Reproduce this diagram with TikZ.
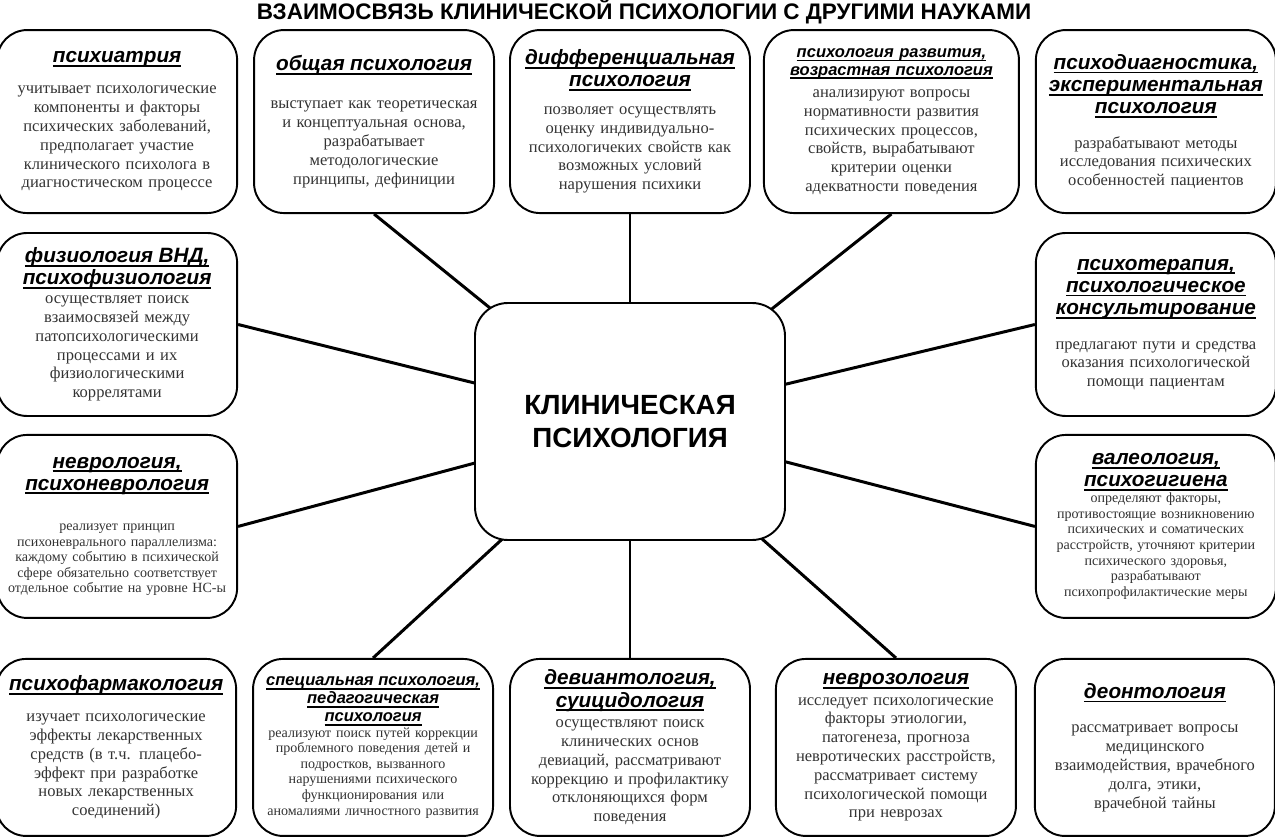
\documentclass[tikz,border=0pt]{standalone}
\usepackage{fontspec}
\setmainfont{Liberation Serif}
\setsansfont{Liberation Sans}
\usepackage{tikz}
\usetikzlibrary{positioning, backgrounds}
\newsavebox{\cajaz}
\newcommand{\subr}[1]{\leavevmode\sbox{\cajaz}{#1}\rlap{\rule[-2.4pt]{\wd\cajaz}{1.1pt}}\usebox{\cajaz}}
\newcommand{\zagol}[2][0pt]{{\fontsize{11.8}{12.6}\selectfont\sffamily\bfseries\itshape\color{black}#2\par}\vspace{#1}}
\newcommand{\zagolch}[2][0pt]{{\fontsize{9.4}{10.2}\selectfont\sffamily\bfseries\itshape\color{black}#2\par}\vspace{#1}}

\begin{document}
\begin{tikzpicture}[
            node distance=0.3cm,
            % Estilos base
            base/.style={
                rectangle, draw, fill=white, align=center, line width=1.1pt
            },
            box_centro/.style={
                base, rounded corners=0.66cm, minimum width=6.2cm, minimum height=4.74cm,
                font=\sffamily\bfseries\fontsize{15.8}{19}\selectfont
            },
            % Cajas de las ciencias (4.8cm x 3.66cm)
            box_rama/.style={
                base, rounded corners=0.6cm, text width=4.5cm, inner xsep=0.15cm, inner ysep=3pt,
                minimum height=3.66cm, font=\fontsize{9.4}{10.7}\selectfont, text=black!80
            },
            box_rama_ch/.style={
                box_rama, font=\fontsize{8}{8.9}\selectfont
            },
            % Fila inferior algo mas baja
            box_baja/.style={minimum height=3.54cm},
            linea/.style={line width=1.7pt}
        ]

            \useasboundingbox (-12.6,8.43) rectangle (12.9,-8.29);

            % 1. Nodo central
            \node[box_centro] (klinika) {КЛИНИЧЕСКАЯ\\ПСИХОЛОГИЯ};

            % Titulo
            \node[anchor=base, inner sep=0pt, font=\sffamily\bfseries\fontsize{12.8}{14}\selectfont] (titulo) at (0.28,8.03)
                {ВЗАИМОСВЯЗЬ КЛИНИЧЕСКОЙ ПСИХОЛОГИИ С ДРУГИМИ НАУКАМИ};

            % 2. Fila superior
            \node[box_rama, above=1.76cm of klinika] (diff) {
                \zagol[5pt]{\subr{дифференциальная}\\\subr{психология}}
                позволяет осуществлять\\оценку индивидуально-\\психологичеких свойств как\\возможных условий\\нарушения психики
            };
            \node[box_rama, left=0.28cm of diff] (obshch) {
                \zagol[11pt]{\subr{общая психология}}
                выступает как теоретическая\\и концептуальная основа,\\разрабатывает\\методологические\\принципы, дефиниции
            };
            \node[box_rama, left=of obshch] (psihiatr) {
                \zagol[7pt]{\subr{психиатрия}}
                учитывает психологические\\компоненты и факторы\\психических заболеваний,\\предполагает участие\\клинического психолога в\\диагностическом процессе
            };
            \node[box_rama, text width=4.8cm, right=0.24cm of diff] (razvit) {
                \zagolch[2pt]{\subr{психология развития,}\\\subr{возрастная психология}}
                анализируют вопросы\\нормативности развития\\психических процессов,\\свойств, вырабатывают\\критерии оценки\\адекватности поведения
            };
            \node[box_rama, right=of razvit] (diagn) {
                \zagol[9pt]{\subr{психодиагностика,}\\\subr{экспериментальная}\\\subr{психология}}
                разрабатывают методы\\исследования психических\\особенностей пациентов
            };

            % 3. Columnas laterales
            \node[box_rama, below=0.36cm of psihiatr] (fiziol) {
                \zagol{\subr{физиология ВНД,}\\\subr{психофизиология}}
                осуществляет поиск\\взаимосвязей между\\патопсихологическими\\процессами и их\\физиологическими\\коррелятами
            };
            \node[box_rama_ch, below=0.34cm of fiziol] (nevrol) {
                \zagol[14pt]{\subr{неврология,}\\\subr{психоневрология}}
                реализует принцип\\психоневрального параллелизма:\\каждому событию в психической\\сфере обязательно соответствует\\отдельное событие на уровне НС-ы
            };
            \node[box_rama, below=0.36cm of diagn] (psihoter) {
                \zagol[9pt]{\subr{психотерапия,}\\\subr{психологическое}\\\subr{консультирование}}
                предлагают пути и средства\\оказания психологической\\помощи пациентам
            };
            \node[box_rama_ch, below=0.34cm of psihoter] (valeol) {
                \zagol{\subr{валеология,}\\\subr{психогигиена}}
                определяют факторы,\\противостоящие возникновению\\психических и соматических\\расстройств, уточняют критерии\\психического здоровья,\\разрабатывают\\психопрофилактические меры
            };

            % 4. Fila inferior
            \node[box_rama, box_baja, below=2.34cm of klinika] (deviant) {
                \zagol[1pt]{\subr{девиантология,}\\\subr{суицидология}}
                осуществляют поиск\\клинических основ\\девиаций, рассматривают\\коррекцию и профилактику\\отклоняющихся форм\\поведения
            };
            \node[box_rama_ch, box_baja, left=of deviant] (spec) {
                \zagolch{\subr{специальная психология,}\\\subr{педагогическая}\\\subr{психология}}
                реализуют поиск путей коррекции\\проблемного поведения детей и\\подростков, вызванного\\нарушениями психического\\функционирования или\\аномалиями личностного развития
            };
            \node[box_rama, box_baja, left=of spec] (farm) {
                \zagol[7pt]{\subr{психофармакология}}
                изучает психологические\\эффекты лекарственных\\средств (в т.ч. плацебо-\\эффект при разработке\\новых лекарственных\\соединений)
            };
            \node[box_rama, box_baja, right=0.48cm of deviant] (nevroz) {
                \zagol[1pt]{\subr{неврозология}}
                исследует психологические\\факторы этиологии,\\патогенеза, прогноза\\невротических расстройств,\\рассматривает систему\\психологической помощи\\при неврозах
            };
            \node[box_rama, box_baja, right=0.34cm of nevroz] (deont) {
                \zagol[9pt]{\subr{деонтология}}
                рассматривает вопросы\\медицинского\\взаимодействия, врачебного\\долга, этики,\\врачебной тайны
            };

            % --- CONEXIONES ---
            \begin{scope}[on background layer]
                \fill[white] (-12.6,8.43) rectangle (12.9,-8.29);
                % Fila superior hacia el centro
                \draw[linea] (obshch.south) -- (klinika.center);
                \draw[linea] (diff.south) -- (klinika.center);
                \draw[linea] (razvit.south) -- (klinika.center);
                % Laterales
                \draw[linea] (fiziol.east) -- (klinika.center);
                \draw[linea] (nevrol.east) -- (klinika.center);
                \draw[linea] (psihoter.west) -- (klinika.center);
                \draw[linea] (valeol.west) -- (klinika.center);
                % Fila inferior
                \draw[linea] (spec.north) -- (klinika.center);
                \draw[linea] (deviant.north) -- (klinika.center);
                \draw[linea] (nevroz.north) -- (klinika.center);
            \end{scope}

        \end{tikzpicture}
\end{document}
